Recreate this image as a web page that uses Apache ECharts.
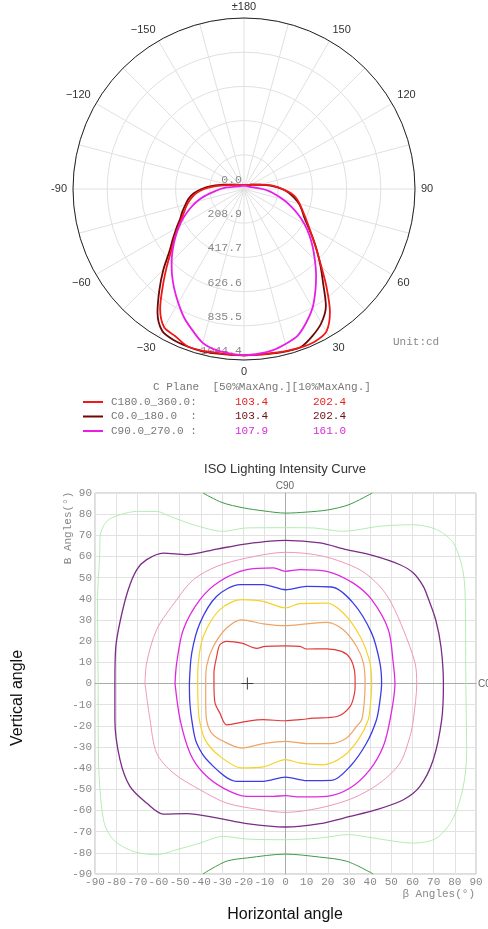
<!DOCTYPE html>
<html><head><meta charset="utf-8">
<script src="https://cdn.jsdelivr.net/npm/echarts@6/dist/echarts.min.js"></script>
<style>html,body{margin:0;padding:0;background:#fff}#c{width:488px;height:929px}</style>
</head><body><div id="c"></div>
<script>
// ---------- Polar (candela) data ----------
const gammaAngles = [0,5,10,15,20,25,30,35,40,45,50,55,60,65,70,75,80,85,90,95,100,105,110,115,120,125,130,135,140,145,150,155,160,165,170,175,180];
const c180Right = [1016,1015,1017,1023,1028,1027,1006,915,785,667,578,509,456,414,380,352,325,286,235,191,143,101,76,62,52,45,40,36,33,30,29,28,27,26,25,25,25];
const c180Left  = [1016,1015,1015,1020,1020,992,975,893,771,666,579,517,464,419,386,359,328,294,243,182,129,92,72,60,51,45,40,36,33,30,29,28,27,26,25,25,25];
const c0Right   = [1016,1016,1020,1025,1025,990,945,872,752,660,580,510,450,405,376,348,312,276,232,182,136,100,76,62,52,45,40,36,33,30,29,28,27,26,25,25,25];
const c0Left    = [1016,1016,1020,1024,1022,1018,1000,921,804,696,595,530,476,430,400,370,344,310,259,201,145,102,78,63,53,45,40,36,33,30,29,28,27,26,25,25,25];
const c90Right  = [1016,1010,1001,980,955,900,838,760,685,612,547,486,425,364,304,248,195,154,114,76,55,45,38,34,30,28,26,25,24,23,22,21,21,20,20,20,20];
const c90Left   = [1016,1008,998,973,919,866,803,743,684,625,567,511,457,405,352,300,242,184,144,106,72,55,45,38,32,29,27,25,24,23,22,21,20,20,20,20,20];
const angleLabels = ['0','30','60','90','120','150','±180','−150','−120','-90','−60','−30'];
const radiusLabels = ['0.0','208.9','417.7','626.6','835.5','1044.4'];
const legendNames = ['C180.0_360.0:','C0.0_180.0  :','C90.0_270.0 :'];
const maxAng50 = ['103.4','103.4','107.9'];
const maxAng10 = ['202.4','202.4','161.0'];

// ---------- ISO contour data (degrees) ----------
const isoRed = [[-33.8,0],[-33.8,5],[-32.5,12.8],[-31,18.3],[-27.8,19.9],[-20.7,19.1],[-13.6,16.6],[-9.7,17.5],[0,17.8],[6.8,17.5],[10,16.3],[19.5,16.4],[26.5,15.2],[30.5,12],[32.6,6],[32.9,0],[32.6,-4.6],[30.5,-10.9],[24.2,-15.6],[13.1,-16.4],[6.8,-17.1],[0,-17.6],[-10.5,-17.1],[-18.3,-17.9],[-27.8,-19.5],[-31,-14],[-33.3,-9.2],[-33.8,0]];
const isoOrange = [[-37.7,0],[-37.3,8.1],[-34.1,17.5],[-27.8,26.2],[-20.7,30.1],[-10.5,28.2],[0,27.3],[10,28.2],[19.5,28.9],[27.3,25.4],[33.6,17.5],[36.8,9.7],[37.6,0],[37.2,-9],[36,-17.1],[33.6,-20.2],[28.9,-25.7],[21,-28.4],[10,-28.4],[0,-27.3],[-10.5,-28.4],[-20.7,-30.5],[-29.4,-27.3],[-34.9,-23.4],[-37.3,-17.1],[-37.7,-8],[-37.7,0]];
const isoYellow = [[-41.5,0],[-41.2,9.7],[-38.8,22.3],[-31,34.9],[-20.7,39.6],[-10.5,38.8],[0,35.7],[6.8,37.7],[19.5,38],[27.3,33.3],[35.2,22.3],[39.9,9.7],[40.7,0],[40.2,-9],[39.1,-17.1],[34.4,-26.5],[27.3,-34.4],[17.9,-38.4],[6.8,-37.6],[0,-36],[-10.5,-39.4],[-20.7,-39.9],[-31,-34.4],[-38,-26.5],[-40.7,-17.1],[-41.3,-9],[-41.5,0]];
const isoBlue = [[-45.4,0],[-44.3,14.4],[-40.4,28.6],[-32.5,41.2],[-21.5,46.7],[-10.5,46.7],[0,44.3],[10,45.9],[21.8,45.6],[32,38],[40.7,23.8],[44.6,9.7],[45.4,0],[44.5,-9],[43,-17.1],[38.3,-28.1],[30.5,-39.2],[21.8,-45.8],[10,-45.9],[0,-44.2],[-10.5,-46.2],[-23.1,-46.2],[-35.7,-37.6],[-42,-28.1],[-44.3,-17.1],[-45.2,-9],[-45.4,0]];
const isoMagenta = [[-52.2,0],[-51.4,9.7],[-48.3,25.4],[-40.4,39.6],[-31,48.3],[-18.3,53.8],[-5.7,54.6],[0,53],[6.8,53.8],[19.5,53],[32,47.4],[40.7,39.6],[48.6,25.4],[50.9,9.7],[51.7,0],[49.4,-17.1],[46.2,-29.7],[39.9,-40.7],[30.5,-49.4],[19.5,-53.3],[6.8,-53.6],[0,-53],[-5.7,-53.3],[-18.3,-53.3],[-29.4,-49.4],[-38.8,-42.3],[-45.1,-32.9],[-49.8,-17.1],[-52.2,0]];
const isoPink = [[-66.4,0],[-65.6,9.7],[-60.9,25.4],[-51.4,39.6],[-43.5,49.1],[-32.5,55.3],[-18.3,59.3],[0,62],[17.9,60.1],[35.2,53.7],[44.6,45.9],[50,38],[55.7,25.4],[61.2,9.7],[62,0],[60.4,-17.1],[58.8,-25],[54.1,-37.6],[44.6,-47],[32,-54.1],[16.3,-58.8],[0,-60.9],[-12,-59.6],[-27.8,-56.5],[-40.4,-50.2],[-53,-42.3],[-60.9,-32.9],[-64,-17.1],[-66.4,0]];
const isoPurple = [[-80.6,0],[-80.2,17],[-78,30],[-74.3,44.3],[-70.3,53.7],[-65.6,58.5],[-57.7,61.6],[-46.7,60.9],[-32.5,63.5],[-18.3,66],[0,67.6],[16.3,66.4],[28.9,63.2],[41.5,60.4],[54.1,56.1],[60.4,52.2],[65.1,45.9],[67.5,40],[71,30],[73.5,17],[74.6,0],[73.8,-17.1],[69.8,-36],[63.5,-48.6],[55.7,-54.9],[43,-59.6],[30.5,-62.8],[16.3,-66.2],[0,-67.8],[-18.3,-66.2],[-32.5,-63.5],[-46.7,-61.5],[-57.7,-61.7],[-65.6,-56.5],[-73.5,-48.6],[-78.2,-36],[-80.6,-17.1],[-80.6,0]];
const isoLightGreen = [[-88.5,0],[-88.8,40],[-87.8,60],[-87.6,69.5],[-84.5,76.6],[-78.2,79.7],[-70.3,81.3],[-60.9,81.3],[-54.6,79],[-43.5,75],[-29.4,71.9],[-18.3,73.5],[0,73.6],[13.1,73.5],[27.3,71.9],[44.6,74.3],[60.4,75],[71.4,72.7],[79.3,66.4],[84,52.2],[85,35],[85.2,0],[85.6,-32.9],[84,-48.6],[79.3,-63.5],[71.4,-73],[60.4,-75.4],[41.5,-73],[29.7,-71.4],[16.3,-73],[0,-73.8],[-18.3,-73.5],[-29.4,-72.2],[-40.4,-75.4],[-51.4,-78.5],[-60.9,-80.9],[-71.9,-79.3],[-81.3,-73.8],[-86,-64.4],[-88.4,-32.9],[-88.5,0]];
const isoGreenTop = [[-39,90],[-30,85.5],[-20,83],[-10,81.5],[0,80.5],[10,81],[20,82],[30,84.5],[41,90]];
const isoGreenBottom = [[-39,-90],[-28,-84],[-18,-82.4],[0,-80.6],[16,-82],[29,-84],[41.5,-90]];
const crossPoint = [[-18,0]];

// ---------- build polar polylines ----------
function polarCurve(right, left) {
  const out = [];
  for (let i = 0; i < gammaAngles.length; i++) out.push([right[i], gammaAngles[i]]);
  for (let i = gammaAngles.length - 1; i >= 0; i--) out.push([left[i], 360 - gammaAngles[i]]);
  return out;
}
const RSTEP = 208.88;
const mono = 'Liberation Mono';
const sans = 'Liberation Sans';
const curveColors = ['#f01818', '#6e0808', '#e81ee8'];
const valueColors = ['#e82020', '#6a1010', '#d82ad8'];

const chart = echarts.init(document.getElementById('c'), null, {renderer: 'canvas'});
function isoLine(name, data, color, width) {
  return {name, type: 'line', xAxisIndex: 0, yAxisIndex: 0, data, showSymbol: false, symbol: 'none',
    smooth: 0.3, lineStyle: {color, width}, silent: true, z: 3};
}
const option = {
  animation: false,
  polar: {center: [244, 189], radius: 171},
  angleAxis: {
    type: 'value', min: 0, max: 360, interval: 15, startAngle: 270, clockwise: false,
    axisLine: {lineStyle: {color: '#222', width: 1}},
    axisTick: {show: false},
    splitLine: {lineStyle: {color: '#e0e0e0', width: 1}},
    axisLabel: {color: '#333', fontFamily: sans, fontSize: 11, margin: 6,
      formatter: v => (v % 30 === 0 && v < 360) ? angleLabels[v / 30] : ''}
  },
  radiusAxis: {
    type: 'value', min: 0, max: RSTEP * 5, interval: RSTEP,
    axisLine: {show: false}, axisTick: {show: false},
    splitLine: {lineStyle: {color: '#e0e0e0', width: 1}},
    axisLabel: {color: '#888', fontFamily: mono, fontSize: 11.5, margin: -2, align: 'right', verticalAlign: 'bottom',
      padding: [0, 0, 3, 0],
      formatter: v => radiusLabels[Math.round(v / RSTEP)]}
  },
  grid: {left: 95, top: 493, width: 381, height: 381, show: true, borderColor: '#bbb', borderWidth: 1},
  xAxis: {type: 'value', min: -90, max: 90, interval: 10,
    axisLine: {lineStyle: {color: '#aaa'}}, axisTick: {show: false},
    splitLine: {lineStyle: {color: '#e2e2e2'}},
    axisLabel: {color: '#888', fontFamily: mono, fontSize: 11, margin: 3}},
  yAxis: {type: 'value', min: -90, max: 90, interval: 10,
    axisLine: {lineStyle: {color: '#aaa'}}, axisTick: {show: false},
    splitLine: {lineStyle: {color: '#e2e2e2'}},
    axisLabel: {color: '#888', fontFamily: mono, fontSize: 11, margin: 3}},
  legend: {
    orient: 'vertical', left: 83, top: 396, padding: 0, itemWidth: 20, itemHeight: 2, itemGap: 2.5,
    icon: 'rect', selectedMode: false, data: legendNames,
    formatter: name => {
      const i = legendNames.indexOf(name);
      return '{n|' + name + '}{a' + i + '|' + maxAng50[i] + '}{b' + i + '|' + maxAng10[i] + '}';
    },
    textStyle: {fontFamily: mono, fontSize: 11, color: '#777', lineHeight: 12,
      rich: {
        n: {fontFamily: mono, fontSize: 11, color: '#777', width: 124, padding: [0, 0, 0, 3]},
        a0: {fontFamily: mono, fontSize: 11, color: valueColors[0], width: 78},
        b0: {fontFamily: mono, fontSize: 11, color: valueColors[0]},
        a1: {fontFamily: mono, fontSize: 11, color: valueColors[1], width: 78},
        b1: {fontFamily: mono, fontSize: 11, color: valueColors[1]},
        a2: {fontFamily: mono, fontSize: 11, color: valueColors[2], width: 78},
        b2: {fontFamily: mono, fontSize: 11, color: valueColors[2]}
      }}
  },
  graphic: [
    {type: 'text', left: 393, top: 337, style: {text: 'Unit:cd', fill: '#888', font: '11px "Liberation Mono"'}},
    {type: 'text', left: 153, top: 382, style: {text: 'C Plane  [50%MaxAng.][10%MaxAng.]', fill: '#777', font: '11px "Liberation Mono"'}},
    {type: 'text', x: 285, y: 469, style: {text: 'ISO Lighting Intensity Curve', fill: '#333', font: '13px "Liberation Sans"', align: 'center', verticalAlign: 'middle'}},
    {type: 'text', x: 285, y: 486, style: {text: 'C90', fill: '#666', font: '10px "Liberation Sans"', align: 'center', verticalAlign: 'middle'}},
    {type: 'text', x: 478, y: 684, style: {text: 'C0', fill: '#666', font: '10px "Liberation Sans"', align: 'left', verticalAlign: 'middle'}},
    {type: 'text', x: 68, y: 528, rotation: Math.PI / 2, style: {text: 'B Angles(°)', fill: '#888', font: '11px "Liberation Mono"', align: 'center', verticalAlign: 'middle'}},
    {type: 'text', x: 475, y: 894, style: {text: 'β Angles(°)', fill: '#888', font: '11px "Liberation Mono"', align: 'right', verticalAlign: 'middle'}},
    {type: 'text', x: 18, y: 698, rotation: Math.PI / 2, style: {text: 'Vertical angle', fill: '#111', font: '16px "Liberation Sans"', align: 'center', verticalAlign: 'middle'}},
    {type: 'text', x: 285, y: 915, style: {text: 'Horizontal angle', fill: '#111', font: '16px "Liberation Sans"', align: 'center', verticalAlign: 'middle'}}
  ],
  series: [
    {name: legendNames[1], type: 'line', coordinateSystem: 'polar', data: polarCurve(c0Right, c0Left), showSymbol: false, symbol: 'none', smooth: 0.3, color: curveColors[1], lineStyle: {width: 1.8}},
    {name: legendNames[0], type: 'line', coordinateSystem: 'polar', data: polarCurve(c180Right, c180Left), showSymbol: false, symbol: 'none', smooth: 0.3, color: curveColors[0], lineStyle: {width: 1.8}},
    {name: legendNames[2], type: 'line', coordinateSystem: 'polar', data: polarCurve(c90Right, c90Left), showSymbol: false, symbol: 'none', smooth: 0.3, color: curveColors[2], lineStyle: {width: 1.8}},
    isoLine('light green', isoLightGreen, '#b4ecb4', 1),
    isoLine('green top', isoGreenTop, '#3c9a46', 1),
    isoLine('green bottom', isoGreenBottom, '#3c9a46', 1),
    isoLine('purple', isoPurple, '#7a2c86', 1.3),
    isoLine('pink', isoPink, '#f096bc', 1),
    isoLine('magenta', isoMagenta, '#e028e0', 1.3),
    isoLine('blue', isoBlue, '#3c3ce6', 1.3),
    isoLine('yellow', isoYellow, '#f6d22a', 1.2),
    isoLine('orange', isoOrange, '#eea464', 1.2),
    isoLine('red', isoRed, '#e23a3a', 1.2),
    {name: 'cross', type: 'scatter', xAxisIndex: 0, yAxisIndex: 0, data: crossPoint, silent: true, z: 4,
      symbol: 'path://M5,0L6,0L6,5L11,5L11,6L6,6L6,11L5,11L5,6L0,6L0,5L5,5Z', symbolSize: 12,
      itemStyle: {color: '#222'}}
  ]
};
chart.setOption(option);
</script></body></html>
